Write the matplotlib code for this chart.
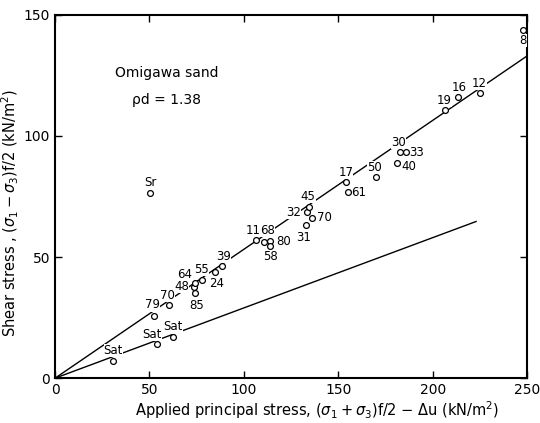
"""Omigawa sand: shear stress vs applied principal stress (redrawn from scan)."""

import matplotlib
matplotlib.use("Agg")
import matplotlib.pyplot as plt
import numpy as np

# --- data ------------------------------------------------------------------
labels = ["79", "70", "48", "85", "64", "55", "24", "39",
          "11", "68", "80", "58", "32", "45", "70", "31",
          "17", "61", "50", "30", "33", "40", "19", "16", "12", "8", "Sr",
          "Sat", "Sat", "Sat"]
p_values = [52.5, 60.5, 73.5, 74.0, 74.0, 77.6, 84.7, 88.5,
            106.3, 110.6, 113.8, 114.1, 133.2, 134.6, 136.0, 132.8,
            154.0, 155.0, 170.2, 182.5, 185.7, 181.3, 206.3, 213.4, 224.9, 248.0, 50.3,
            30.9, 54.1, 62.6]
q_values = [25.7, 30.2, 37.7, 35.0, 39.4, 40.5, 43.9, 46.3,
            57.0, 56.2, 56.6, 54.7, 68.7, 70.8, 66.2, 63.2,
            80.8, 77.0, 82.9, 93.3, 93.3, 88.7, 110.7, 116.0, 117.6, 143.8, 76.5,
            7.2, 14.0, 17.0]

# fitted lines: slope and x-extent
upper_slope, upper_xmax = 0.532, 250.0
lower_slope, lower_xmax = 0.290, 223.0

# label offsets in pixels (dx, dy) from each circle
_OFFSETS = [(-2, 11), (-2, 10), (-12, 0), (2, -12), (-10, 8), (0, 11), (2, -12), (1, 10),
            (-3, 10), (4, 12), (14, 0), (0, -11), (-13, -1), (-1, 10), (13, 0), (-2, -12),
            (0, 10), (11, -1), (-2, 10), (-1, 10), (11, 0), (11, -3), (0, 10), (1, 10),
            (0, 10), (0, -11), (0, 10),
            (0, 10), (-5, 10), (0, 10)]

fig = plt.figure(figsize=(5.4, 4.23), dpi=100)
ax = fig.add_axes([0.102, 0.106, 0.874, 0.859])

xu = np.linspace(0, upper_xmax, 2)
xl = np.linspace(0, lower_xmax, 2)
ax.plot(xu, upper_slope * xu, color="black", lw=1.0, zorder=2)
ax.plot(xl, lower_slope * xl, color="black", lw=1.0, zorder=2)

ax.plot(p_values, q_values, "o", ms=4.2, mfc="white", mec="black", mew=0.9,
        zorder=4, clip_on=False)

for lab, x, y, (dx, dy) in zip(labels, p_values, q_values, _OFFSETS):
    ax.annotate(lab, (x, y), xytext=(dx, dy), textcoords="offset pixels",
                ha="center", va="center", fontsize=8.5, zorder=3,
                bbox=dict(fc="white", ec="none", pad=0.05))

ax.text(31.5, 126, "Omigawa sand", fontsize=10, ha="left", va="center")
ax.text(41, 115, "ρd = 1.38", fontsize=10, ha="left", va="center")

ax.set_xlim(0, 250)
ax.set_ylim(0, 150)
ax.set_xticks(np.arange(0, 251, 50))
ax.set_yticks(np.arange(0, 151, 50))
ax.tick_params(direction="in", top=True, right=True, length=5, width=1.0,
               labelsize=10)
for sp in ax.spines.values():
    sp.set_linewidth(1.5)

ax.set_xlabel(r"Applied principal stress, $(\sigma_1+\sigma_3)$f/2 $-$ $\Delta$u (kN/m$^2$)",
              fontsize=10.5)
ax.set_ylabel(r"Shear stress , $(\sigma_1-\sigma_3)$f/2 (kN/m$^2$)",
              fontsize=10.5)
ax.xaxis.set_label_coords(0.555, -0.058)
ax.yaxis.set_label_coords(-0.072, 0.455)

fig.savefig("out.png", dpi=100)
